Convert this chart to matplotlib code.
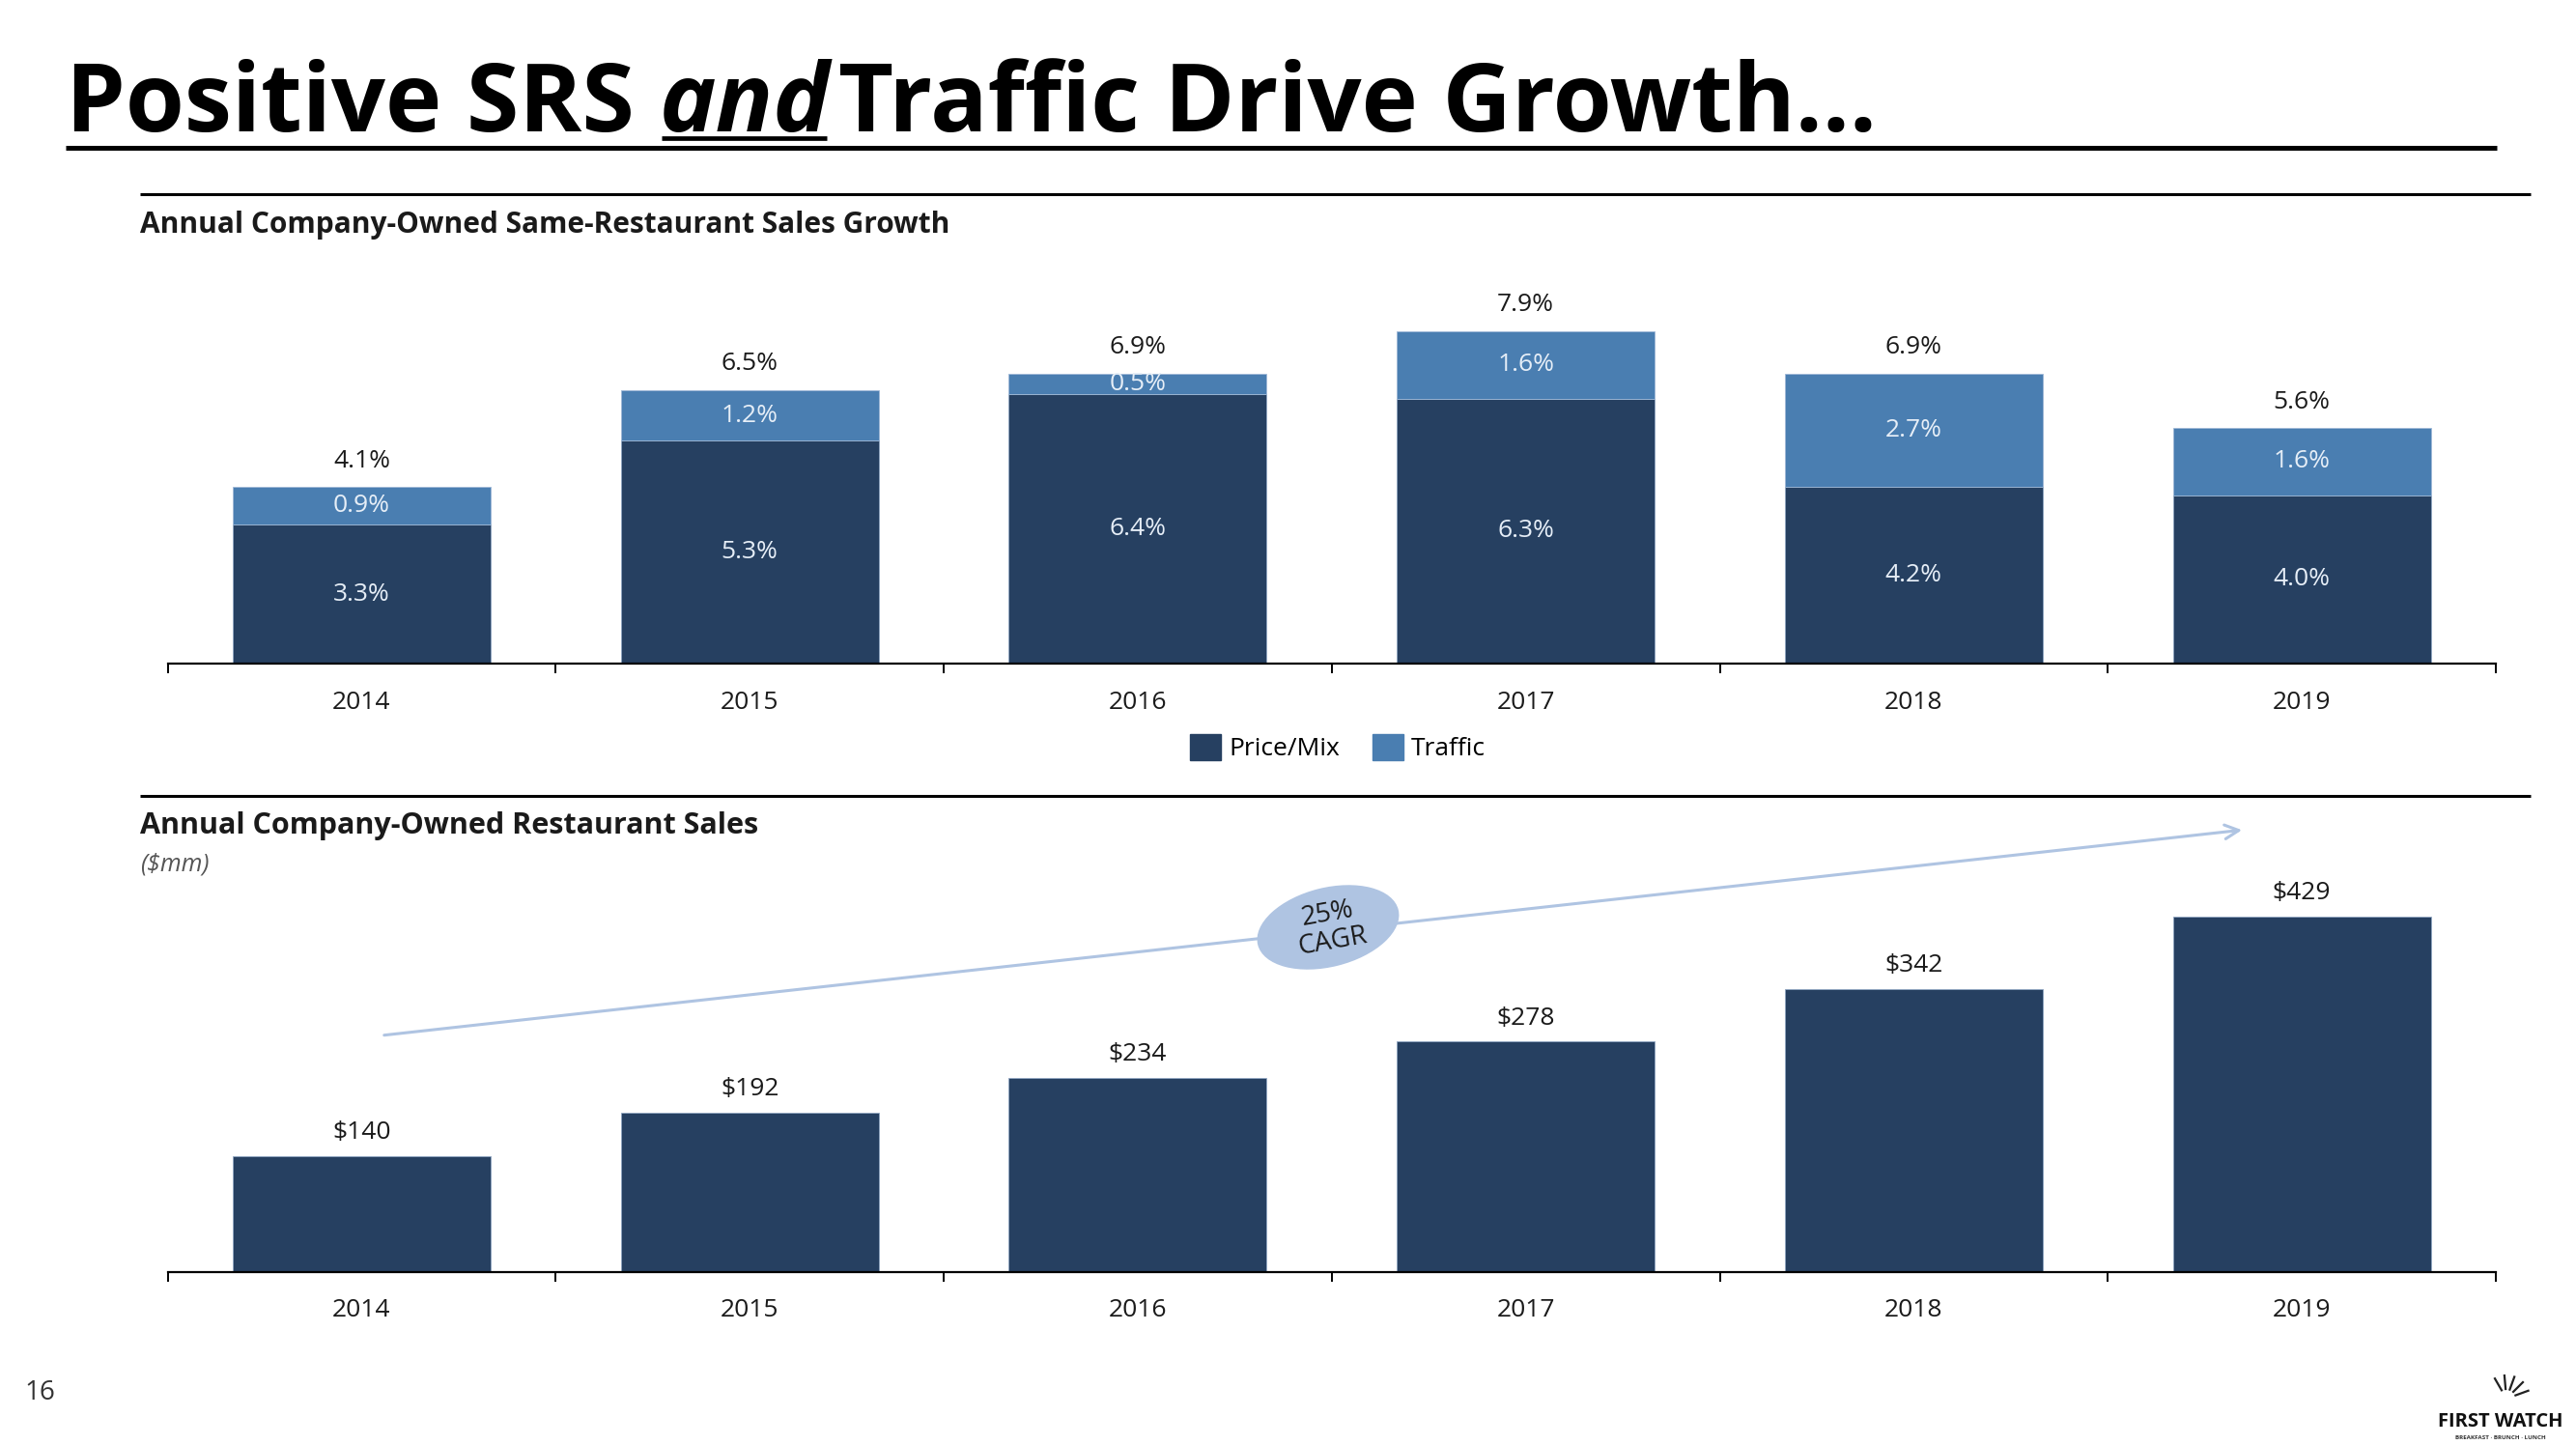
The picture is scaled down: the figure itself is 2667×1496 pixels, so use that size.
import matplotlib.pyplot as plt
from matplotlib.patches import Ellipse, Rectangle
import numpy as np

# data
years = ["2014", "2015", "2016", "2017", "2018", "2019"]
price_mix = [3.3, 5.3, 6.4, 6.3, 4.2, 4.0]
traffic = [0.9, 1.2, 0.5, 1.6, 2.7, 1.6]
srs_total = [4.1, 6.5, 6.9, 7.9, 6.9, 5.6]
sales = [140, 192, 234, 278, 342, 429]
cagr_text = "25%\nCAGR"

W, H = 2667, 1496
dark = "#264061"
light = "#4A7EB1"
pale = "#AFC4E2"
txt = "#1A1A1A"

plt.rcParams['font.family'] = ['Open Sans', 'DejaVu Sans']

fig = plt.figure(figsize=(W / 100, H / 100), dpi=100)


def box(x0, y0, x1, y1):
    # pixel box measured from top-left -> figure fraction rect
    return [x0 / W, 1 - y1 / H, (x1 - x0) / W, (y1 - y0) / H]


def style_axis(ax, n):
    for s in ["top", "right", "left"]:
        ax.spines[s].set_visible(False)
    ax.spines["bottom"].set_linewidth(1.6)
    ax.spines["bottom"].set_color("black")
    ax.set_yticks([])
    ax.set_xlim(-0.5, n - 0.5)
    ax.set_xticks(np.arange(n))
    ax.set_xticklabels(years, fontsize=19, color=txt)
    ax.tick_params(axis="x", which="major", length=0, pad=20)
    ax.set_xticks(np.arange(n + 1) - 0.5, minor=True)
    ax.tick_params(axis="x", which="minor", length=7, width=1.4, direction="out")
    ax.patch.set_alpha(0)


x = np.arange(len(years))
bw = 0.665

# ---- top chart: same-restaurant sales growth
ax1 = fig.add_axes(box(173.5, 687 - 9.5 * 43.55, 2584, 687))
ax1.set_ylim(0, 9.5)
ax1.bar(x, price_mix, width=bw, color=dark, edgecolor="#8FA5C2", linewidth=0.6, label="Price/Mix")
ax1.bar(x, traffic, width=bw, bottom=price_mix, color=light, edgecolor="#9FB8D6", linewidth=0.6, label="Traffic")
for i in range(len(years)):
    ax1.text(i, price_mix[i] / 2, f"{price_mix[i]:.1f}%", ha="center", va="center",
             fontsize=19, color="#E6EEF7")
    ax1.text(i, price_mix[i] + traffic[i] / 2, f"{traffic[i]:.1f}%", ha="center", va="center",
             fontsize=19, color="#E6EEF7")
    ax1.annotate(f"{srs_total[i]:.1f}%", (i, price_mix[i] + traffic[i]), xytext=(0, 19.5),
                 textcoords="offset points", ha="center", va="center", fontsize=19, color=txt)
style_axis(ax1, len(years))

fig.legend(handles=[Rectangle((0, 0), 1, 1, color=dark), Rectangle((0, 0), 1, 1, color=light)],
           labels=["Price/Mix", "Traffic"], loc="center", bbox_to_anchor=(1385 / W, 1 - 774 / H),
           ncol=2, frameon=False, fontsize=19, handlelength=1.2, handleheight=1.2,
           columnspacing=1.3, handletextpad=0.3)

# ---- bottom chart: restaurant sales
ax2 = fig.add_axes(box(173.5, 1316.6 - 500 * 0.8565, 2584, 1316.6))
ax2.set_ylim(0, 500)
ax2.bar(x, sales, width=bw, color=dark, edgecolor="#8FA5C2", linewidth=0.6)
for i in range(len(years)):
    ax2.annotate(f"${sales[i]}", (i, sales[i]), xytext=(0, 17.5), textcoords="offset points",
                 ha="center", va="center", fontsize=19, color=txt)
style_axis(ax2, len(years))

# ---- overlay in slide pixels for title, rules and callouts
ax0 = fig.add_axes([0, 0, 1, 1])
ax0.set_xlim(0, W)
ax0.set_ylim(H, 0)
ax0.axis("off")
ax0.patch.set_alpha(0)

renderer = fig.canvas.get_renderer()
tsize = 71
t1 = ax0.text(68, 136, "Positive SRS", fontsize=tsize, weight="bold", va="baseline", color="black")
e1 = t1.get_window_extent(renderer)
t2 = ax0.text(e1.x1 + 26, 136, "and", fontsize=tsize, weight="bold", style="italic",
              va="baseline", color="black")
e2 = t2.get_window_extent(renderer)
ax0.plot([e2.x0 + 2, e2.x1 - 4], [143, 143], color="black", lw=3.4, solid_capstyle="butt")
ax0.text(e2.x1 + 8, 136, "Traffic Drive Growth…", fontsize=tsize, weight="bold",
         va="baseline", color="black")

ax0.plot([68, 2585], [153, 153], color="black", lw=3.6, solid_capstyle="butt")
ax0.plot([145, 2620], [201, 201], color="black", lw=2.2, solid_capstyle="butt")
ax0.plot([145, 2620], [824, 824], color="black", lw=2.2, solid_capstyle="butt")

ax0.text(145, 233, "Annual Company-Owned Same-Restaurant Sales Growth", fontsize=21.5,
         weight="bold", va="center", color=txt)
ax0.text(145, 855, "Annual Company-Owned Restaurant Sales", fontsize=22,
         weight="bold", va="center", color=txt)
ax0.text(145, 895, "($mm)", fontsize=18, style="italic", va="center", color="#555555")

# CAGR arrow and bubble
ax0.annotate("", xy=(2324, 859), xytext=(395, 1072),
             arrowprops=dict(arrowstyle="->", color=pale, lw=2.2, mutation_scale=26))
ax0.add_patch(Ellipse((1375, 960), 150, 82, angle=-14, facecolor=pale, edgecolor="none", zorder=3))
ax0.text(1377, 961, cagr_text, fontsize=20, ha="center", va="center", rotation=10,
         color=txt, linespacing=1.05, zorder=4)

# page number and logo
ax0.text(41, 1442, "16", fontsize=20, va="center", ha="center", color="#333333")
for ang in [20, 45, 70, 95, 120]:
    a = np.radians(ang)
    ax0.plot([2595 + 10 * np.cos(a), 2595 + 24 * np.cos(a)],
             [1448 - 10 * np.sin(a), 1448 - 24 * np.sin(a)], color="#222222", lw=1.6)
ax0.text(2589, 1472, "FIRST WATCH", fontsize=14.5, weight="bold", ha="center", va="center",
         color="#111111")
ax0.text(2589, 1489, "BREAKFAST · BRUNCH · LUNCH", fontsize=4.5, weight="bold", ha="center",
         va="center", color="#333333")

fig.savefig("out.png", dpi=100)
